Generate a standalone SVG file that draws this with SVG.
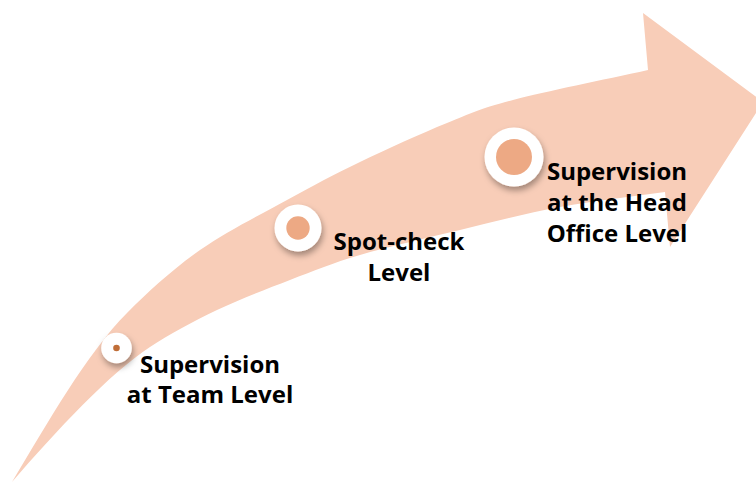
<svg xmlns="http://www.w3.org/2000/svg" width="756" height="483" viewBox="0 0 756 483">
  <defs>
    <filter id="lift" x="-50%" y="-50%" width="200%" height="200%">
      <feDropShadow dx="1.5" dy="4" stdDeviation="3" flood-color="#000" flood-opacity="0.35"/>
    </filter>
    <style>
      .arrow { fill: #F8CDB8; }
      .ring { fill: #FFFFFF; filter: url(#lift); }
      .dot { fill: #EDA984; }
      .dot-small { fill: #C06E38; }
      .label { font-family: "Open Sans", "Liberation Sans", sans-serif; font-weight: 700; font-size: 24px; fill: #000; text-anchor: middle; }
    </style>
  </defs>

  <rect width="756" height="483" fill="#FFFFFF"/>

  <!-- curved rising arrow: upper edge, head, then lower edge back to the tail -->
  <g id="arrow">
    <path class="arrow" d="M12,482
      C47,424 87,353 127,313
      C148.7,291 173.3,268.8 200,250
      C226.7,231.2 260.3,214.7 287,200
      C313.7,185.3 333.3,174.8 360,162
      C386.7,149.2 421.5,133.3 447,123
      C472.5,112.7 479.5,108.8 513,100
      C546.5,91.2 603,80 648,70
      L643,13 L763,102 L670,247 L665,192
      C630,197 594.2,200.7 560,207
      C525.8,213.3 493.3,222 460,230
      C426.7,238 388.3,246.7 360,255
      C331.7,263.3 313.8,270.8 290,280
      C266.2,289.2 240.3,298.8 217,310
      C193.7,321.2 167.8,335.3 150,347
      C110,373 57,430 12,482 Z"/>
  </g>

  <!-- level 1 -->
  <g id="team-level">
    <circle class="ring" cx="116.5" cy="348" r="15.3"/>
    <circle class="dot-small" cx="116.5" cy="348" r="3.3"/>
    <text class="label" x="210" y="373">Supervision</text>
    <text class="label" x="210" y="403">at Team Level</text>
  </g>

  <!-- level 2 -->
  <g id="spot-check-level">
    <circle class="ring" cx="298" cy="228" r="23.5"/>
    <circle class="dot" cx="298" cy="228" r="11.7"/>
    <text class="label" x="399" y="250">Spot-check</text>
    <text class="label" x="399" y="281">Level</text>
  </g>

  <!-- level 3 -->
  <g id="head-office-level">
    <circle class="ring" cx="514" cy="157" r="29.5"/>
    <circle class="dot" cx="514" cy="157" r="18"/>
    <text class="label" x="617" y="180">Supervision</text>
    <text class="label" x="617" y="211">at the Head</text>
    <text class="label" x="617" y="242">Office Level</text>
  </g>
</svg>
